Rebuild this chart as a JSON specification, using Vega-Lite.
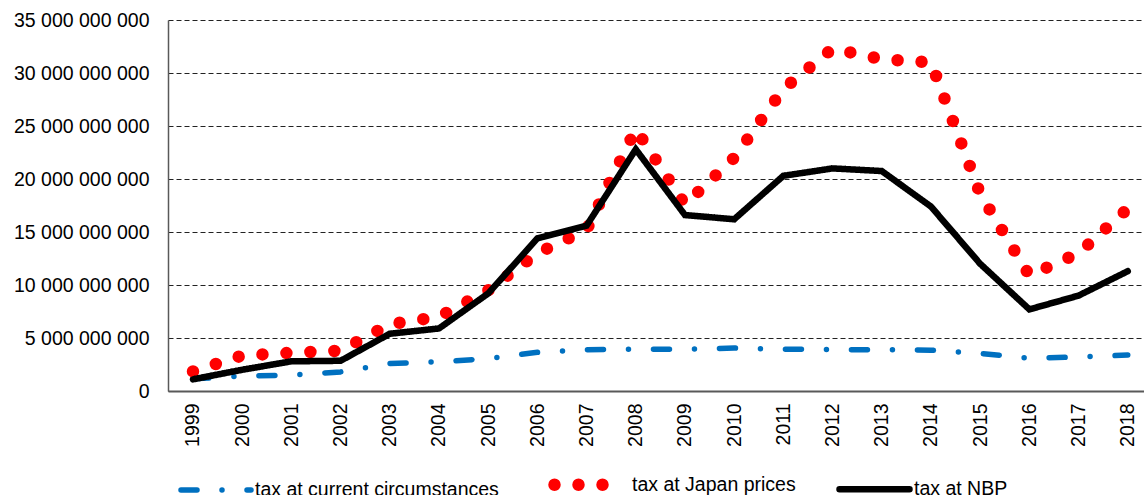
{
  "$schema": "https://vega.github.io/schema/vega-lite/v6.json",
  "width": 976,
  "height": 371,
  "autosize": {"type": "none"},
  "padding": {"left": 168, "top": 20, "right": 0, "bottom": 104},
  "config": {
    "locale": {"number": {"decimal": ",", "thousands": " ", "grouping": [3], "currency": ["", ""]}},
    "view": {"stroke": null},
    "font": "Liberation Sans",
    "background": "#ffffff"
  },
  "data": {
    "values": [
      {"year": 1999, "series": "tax at current circumstances", "value": 1150000000},
      {"year": 2000, "series": "tax at current circumstances", "value": 1400000000},
      {"year": 2001, "series": "tax at current circumstances", "value": 1500000000},
      {"year": 2002, "series": "tax at current circumstances", "value": 1800000000},
      {"year": 2003, "series": "tax at current circumstances", "value": 2600000000},
      {"year": 2004, "series": "tax at current circumstances", "value": 2750000000},
      {"year": 2005, "series": "tax at current circumstances", "value": 3050000000},
      {"year": 2006, "series": "tax at current circumstances", "value": 3650000000},
      {"year": 2007, "series": "tax at current circumstances", "value": 3900000000},
      {"year": 2008, "series": "tax at current circumstances", "value": 3950000000},
      {"year": 2009, "series": "tax at current circumstances", "value": 3950000000},
      {"year": 2010, "series": "tax at current circumstances", "value": 4050000000},
      {"year": 2011, "series": "tax at current circumstances", "value": 3950000000},
      {"year": 2012, "series": "tax at current circumstances", "value": 3900000000},
      {"year": 2013, "series": "tax at current circumstances", "value": 3900000000},
      {"year": 2014, "series": "tax at current circumstances", "value": 3850000000},
      {"year": 2015, "series": "tax at current circumstances", "value": 3550000000},
      {"year": 2016, "series": "tax at current circumstances", "value": 3100000000},
      {"year": 2017, "series": "tax at current circumstances", "value": 3200000000},
      {"year": 2018, "series": "tax at current circumstances", "value": 3400000000},
      {"year": 1999, "series": "tax at Japan prices", "value": 1850000000},
      {"year": 2000, "series": "tax at Japan prices", "value": 3350000000},
      {"year": 2001, "series": "tax at Japan prices", "value": 3600000000},
      {"year": 2002, "series": "tax at Japan prices", "value": 3800000000},
      {"year": 2003, "series": "tax at Japan prices", "value": 6300000000},
      {"year": 2004, "series": "tax at Japan prices", "value": 7000000000},
      {"year": 2005, "series": "tax at Japan prices", "value": 9500000000},
      {"year": 2006, "series": "tax at Japan prices", "value": 13000000000},
      {"year": 2007, "series": "tax at Japan prices", "value": 15200000000},
      {"year": 2008, "series": "tax at Japan prices", "value": 24700000000},
      {"year": 2009, "series": "tax at Japan prices", "value": 17600000000},
      {"year": 2010, "series": "tax at Japan prices", "value": 22000000000},
      {"year": 2011, "series": "tax at Japan prices", "value": 28500000000},
      {"year": 2012, "series": "tax at Japan prices", "value": 32300000000},
      {"year": 2013, "series": "tax at Japan prices", "value": 31300000000},
      {"year": 2014, "series": "tax at Japan prices", "value": 31000000000},
      {"year": 2015, "series": "tax at Japan prices", "value": 18600000000},
      {"year": 2016, "series": "tax at Japan prices", "value": 10900000000},
      {"year": 2017, "series": "tax at Japan prices", "value": 13000000000},
      {"year": 2018, "series": "tax at Japan prices", "value": 17200000000},
      {"year": 1999, "series": "tax at NBP", "value": 1100000000},
      {"year": 2000, "series": "tax at NBP", "value": 2000000000},
      {"year": 2001, "series": "tax at NBP", "value": 2800000000},
      {"year": 2002, "series": "tax at NBP", "value": 2850000000},
      {"year": 2003, "series": "tax at NBP", "value": 5400000000},
      {"year": 2004, "series": "tax at NBP", "value": 5900000000},
      {"year": 2005, "series": "tax at NBP", "value": 9200000000},
      {"year": 2006, "series": "tax at NBP", "value": 14400000000},
      {"year": 2007, "series": "tax at NBP", "value": 15600000000},
      {"year": 2008, "series": "tax at NBP", "value": 22800000000},
      {"year": 2009, "series": "tax at NBP", "value": 16600000000},
      {"year": 2010, "series": "tax at NBP", "value": 16200000000},
      {"year": 2011, "series": "tax at NBP", "value": 20300000000},
      {"year": 2012, "series": "tax at NBP", "value": 21000000000},
      {"year": 2013, "series": "tax at NBP", "value": 20750000000},
      {"year": 2014, "series": "tax at NBP", "value": 17400000000},
      {"year": 2015, "series": "tax at NBP", "value": 12000000000},
      {"year": 2016, "series": "tax at NBP", "value": 7700000000},
      {"year": 2017, "series": "tax at NBP", "value": 9000000000},
      {"year": 2018, "series": "tax at NBP", "value": 11300000000}
    ]
  },
  "mark": {"type": "line", "strokeCap": "round", "clip": false},
  "encoding": {
    "x": {
      "field": "year",
      "type": "quantitative",
      "scale": {"domain": [1998.492, 2018.33], "nice": false, "zero": false},
      "axis": {
        "values": [1999, 2000, 2001, 2002, 2003, 2004, 2005, 2006, 2007, 2008, 2009, 2010, 2011, 2012, 2013, 2014, 2015, 2016, 2017, 2018],
        "format": "d",
        "title": null,
        "labelAngle": -90,
        "labelAlign": "right",
        "labelBaseline": "middle",
        "labelFontSize": 19.5,
        "labelColor": "#000000",
        "labelPadding": 12,
        "labelFlush": false,
        "labelOverlap": false,
        "ticks": false,
        "tickSize": 0,
        "grid": false,
        "domainColor": "#595959",
        "domainWidth": 2
      }
    },
    "y": {
      "field": "value",
      "type": "quantitative",
      "scale": {"domain": [0, 35000000000], "nice": false, "zero": true},
      "axis": {
        "values": [0, 5000000000, 10000000000, 15000000000, 20000000000, 25000000000, 30000000000, 35000000000],
        "format": ",d",
        "title": null,
        "labelFontSize": 19.5,
        "labelColor": "#000000",
        "labelPadding": 19,
        "labelFlush": false,
        "ticks": false,
        "tickSize": 0,
        "grid": true,
        "gridColor": "#222222",
        "gridDash": [5, 3],
        "gridWidth": 1,
        "domainColor": "#595959",
        "domainWidth": 1.5
      }
    },
    "color": {
      "field": "series",
      "type": "nominal",
      "scale": {
        "domain": ["tax at current circumstances", "tax at Japan prices", "tax at NBP"],
        "range": ["#0070C0", "#FF0000", "#000000"]
      },
      "legend": {
        "orient": "none",
        "legendX": 10,
        "legendY": 423,
        "direction": "horizontal",
        "title": null,
        "padding": 0,
        "symbolType": "stroke",
        "symbolSize": 4900,
        "labelFontSize": 19.5,
        "labelColor": "#000000",
        "labelOffset": 1,
        "columnPadding": 30,
        "labelLimit": 400,
        "encode": {
          "symbols": {
            "update": {
              "strokeCap": {"value": "round"}
            }
          }
        }
      }
    },
    "strokeDash": {
      "field": "series",
      "type": "nominal",
      "scale": {
        "type": "ordinal",
        "domain": ["tax at current circumstances", "tax at Japan prices", "tax at NBP"],
        "range": [[16, 25, 0, 25], [0, 24], [1, 0]]
      },
      "legend": null
    },
    "strokeWidth": {
      "field": "series",
      "type": "nominal",
      "scale": {
        "type": "ordinal",
        "domain": ["tax at current circumstances", "tax at Japan prices", "tax at NBP"],
        "range": [5.5, 12.5, 6.5]
      },
      "legend": null
    }
  }
}
